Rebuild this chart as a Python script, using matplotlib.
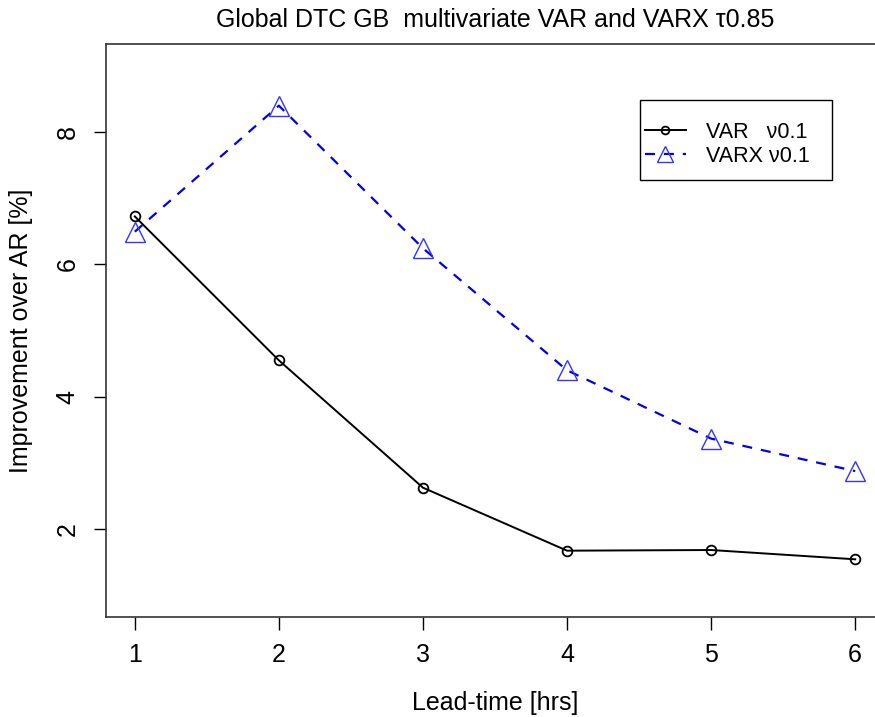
import numpy as np
import matplotlib.pyplot as plt
from matplotlib.patches import Rectangle

plt.rcParams["font.family"] = ["Liberation Sans", "DejaVu Sans"]

# values
lead_time = [1, 2, 3, 4, 5, 6]
var_impr = [6.72, 4.55, 2.63, 1.68, 1.69, 1.55]
varx_impr = [6.49, 8.39, 6.24, 4.40, 3.37, 2.88]
y_ticks = [2, 4, 6, 8]

W, H = 875, 717
fig = plt.figure(figsize=(W / 100, H / 100), dpi=100)
# R-style plot region; right edge runs past the (cropped) figure
ax = fig.add_axes([106 / W, 100 / H, 778 / W, 573 / H])

ax.plot(lead_time, var_impr, "-", color="black", lw=1.4,
        marker="o", ms=7, mfc="none", mec="black", mew=1.3, label="VAR   \u03bd0.1")
ax.plot(lead_time, varx_impr, "--", color="#0000ee", lw=1.6, dashes=(4.5, 4),
        marker="^", ms=15, mfc="none", mec="#3333ff", mew=1.0, label="VARX \u03bd0.1")

ax.set_xlim(0.8, 6.2)
ax.set_ylim(0.68, 9.32)
ax.set_xticks(lead_time)
ax.set_yticks(y_ticks)
ax.tick_params(direction="out", length=9, width=1, labelsize=18, pad=10)
for lab in ax.get_yticklabels():
    lab.set_rotation(90)
    lab.set_va("center")
for s in ax.spines.values():
    s.set_linewidth(1.2)
    s.set_color("#333333")

ax.set_xlabel("Lead-time [hrs]", fontsize=18, labelpad=17)
ax.set_ylabel("Improvement over AR [%]", fontsize=18, labelpad=16)
fig.text(495 / W, 1 - 20 / H, "Global DTC GB  multivariate VAR and VARX \u03c40.85",
         ha="center", va="center", fontsize=18)

# legend without its own frame; R-like box drawn separately
leg = ax.legend(loc="upper left", bbox_to_anchor=(645 / W, 1 - 122 / H),
                bbox_transform=fig.transFigure, frameon=False,
                fontsize=15.5, handlelength=1.9,
                borderpad=0, labelspacing=0.12, handletextpad=0.95,
                borderaxespad=0, markerscale=0.8)
fig.patches.append(Rectangle((640 / W, 1 - 180 / H), 192 / W, 80 / H,
                             transform=fig.transFigure, fill=False,
                             edgecolor="black", lw=1.0, zorder=5))

fig.savefig("out.png", dpi=100)
